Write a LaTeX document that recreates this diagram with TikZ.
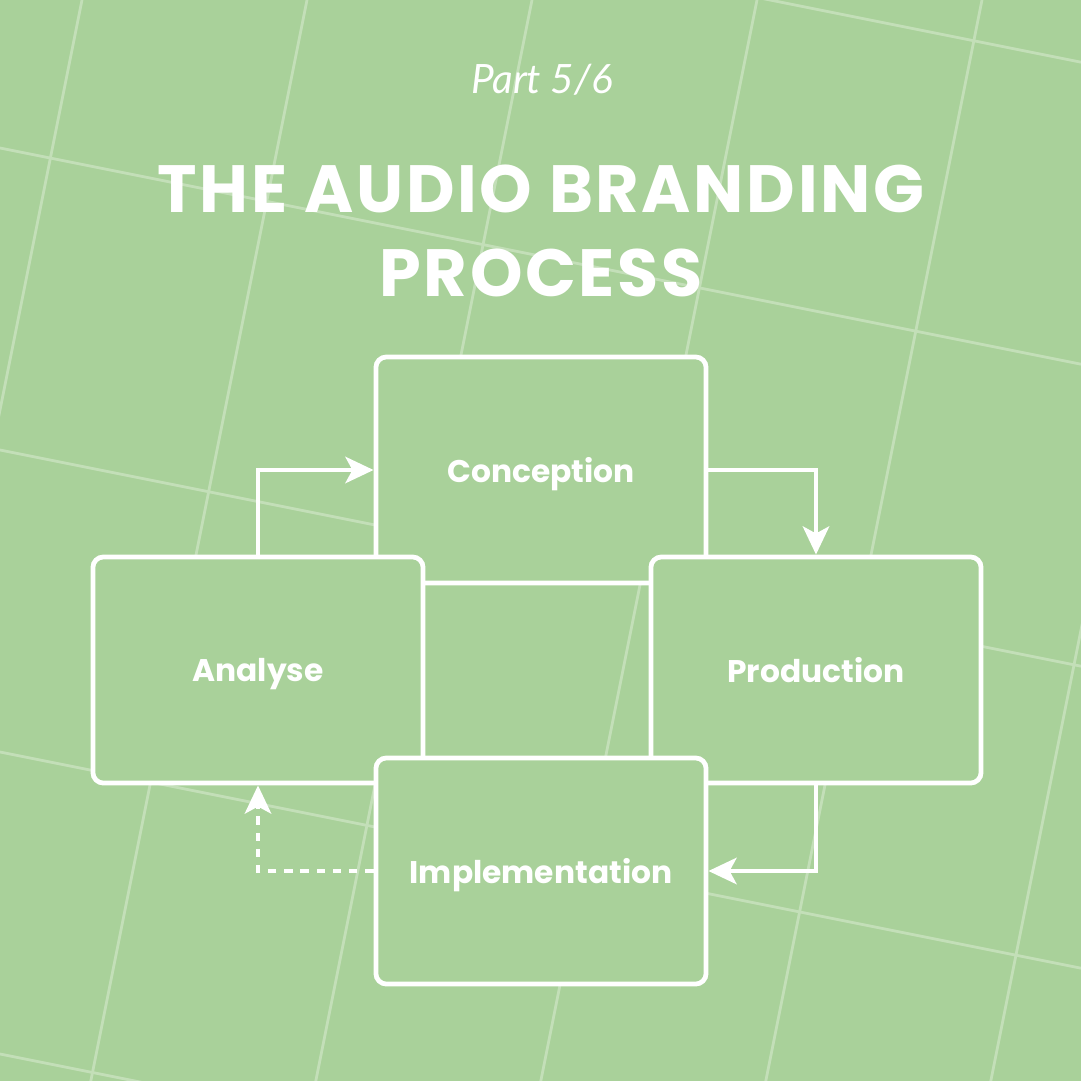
\documentclass[tikz,border=0pt]{standalone}
\usepackage{fontspec}
\setmainfont{Poppins}
\newfontfamily\partfont{Lato}
\usetikzlibrary{arrows.meta}
\definecolor{leaf}{RGB}{169,209,154}

\begin{document}
\begin{tikzpicture}[x=0.01cm, y=-0.01cm]
    \tikzset{
      stage/.style={draw=white, fill=leaf, line width=1.35pt, rounded corners=3pt,
        minimum width=3.3cm, minimum height=2.26cm, text=white, text depth=0pt,
        font=\bfseries\fontsize{8.9}{11}\selectfont},
      flow/.style={draw=white, line width=1.25pt, -{Stealth[length=8pt, width=7.5pt, inset=2pt]}},
      backflow/.style={flow, dash pattern=on 2.4pt off 2.2pt},
      gridline/.style={draw=white!30!leaf, line width=0.8pt},
      headline/.style={text=white, anchor=base, font=\bfseries\fontsize{19}{23}\selectfont\addfontfeature{LetterSpace=4}}
    }
    \useasboundingbox (0,0) rectangle (1081,1081);
    \fill[leaf] (0,0) rectangle (1081,1081);

    % Hintergrund: schraeges Raster
    \begin{scope}
      \clip (0,0) rectangle (1081,1081);
      \foreach \k in {-1,...,5}
        \draw[gridline] ({82+225*\k},0) -- ({82+225*\k-216.2},1081);
      \foreach \k in {-1,...,3}
        \draw[gridline] (0,{148+302*\k}) -- (1081,{148+302*\k+216.2});
    \end{scope}

    % Titel
    \node[text=white, anchor=base, font=\partfont\itshape\fontsize{11.5}{14}\selectfont] (part) at (542,93) {Part 5/6};
    \node[headline] (headA) at (541,212) {THE AUDIO BRANDING};
    \node[headline] (headB) at (541,296) {PROCESS};

    % Die vier Phasen (Reihenfolge = Ueberdeckung)
    \node[stage] (con) at (541,470) {Conception};
    \node[stage] (ana) at (258,670) {Analyse};
    \node[stage] (pro) at (816,670) {Production};
    \node[stage] (imp) at (541,871) {Implementation};

    % Ablauf
    \draw[flow] (ana.north) |- (con.west);
    \draw[flow] (con.east) -| (pro.north);
    \draw[flow] (pro.south) |- (imp.east);
    \draw[backflow] (imp.west) -| (ana.south);
  \end{tikzpicture}
\end{document}
